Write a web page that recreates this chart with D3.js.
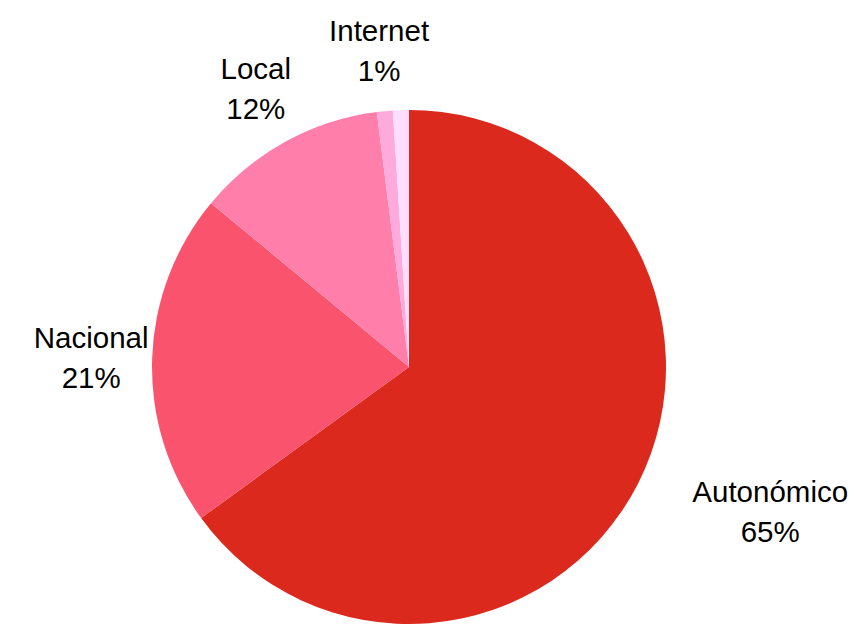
<!DOCTYPE html>
<html>
<head>
<meta charset="utf-8">
<script src="https://cdn.jsdelivr.net/npm/d3@7"></script>
<style>
  html, body { margin: 0; padding: 0; background: #ffffff; }
  svg { display: block; }
</style>
</head>
<body>
<svg id="chart" width="854" height="625"></svg>
<script>
// Distribución por ámbito
const categories = ["Autonómico", "Nacional", "Local", "Internet", "Otros"];
const values = [65, 21, 12, 1, 1];
const showLabel = [true, true, true, true, false];
const colors = ["#dc291e", "#f9536e", "#ff7faa", "#ffaadd", "#ffddff"];

const width = 854, height = 625;
const cx = 409, cy = 367, radius = 257;
const labelRadius = 318;
const lineGap = 40;

const svg = d3.select("#chart");
const g = svg.append("g").attr("transform", `translate(${cx},${cy})`);

const data = categories.map((c, i) => ({ name: c, value: values[i], color: colors[i], label: showLabel[i] }));
const total = d3.sum(values);

const pie = d3.pie().value(d => d.value).sort(null);
const arc = d3.arc().innerRadius(0).outerRadius(radius);
const arcs = pie(data);

g.selectAll("path.slice")
  .data(arcs)
  .join("path")
  .attr("class", "slice")
  .attr("d", arc)
  .attr("fill", d => d.data.color);

const fmt = v => Math.round(v / total * 100) + "%";

arcs.filter(d => d.data.label).forEach(d => {
  const mid = (d.startAngle + d.endAngle) / 2;
  const ax = labelRadius * Math.sin(mid);
  const ay = -labelRadius * Math.cos(mid);
  const t = g.append("text")
    .attr("font-family", "'Liberation Sans', Arial, sans-serif")
    .attr("font-size", 29.5)
    .attr("fill", "#000")
    .attr("text-anchor", "middle");
  const l1 = t.append("tspan").text(d.data.name);
  const l2 = t.append("tspan").text(fmt(d.data.value));
  const w = Math.max(l1.node().getComputedTextLength(), l2.node().getComputedTextLength());
  // labels on the right side start at the anchor point; others are centred on it
  const xc = Math.sin(mid) > 0.7 ? ax + w / 2 : ax;
  l1.attr("x", xc).attr("y", ay - 9);
  l2.attr("x", xc).attr("y", ay - 9 + lineGap);
});
</script>
</body>
</html>
